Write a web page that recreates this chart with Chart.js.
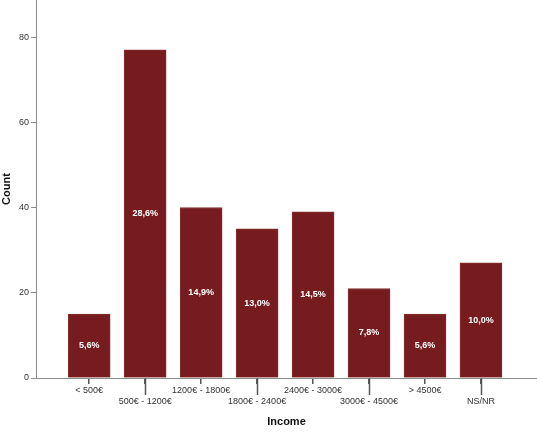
<!DOCTYPE html>
<html>
<head>
<meta charset="utf-8">
<script src="https://cdn.jsdelivr.net/npm/chart.js@4/dist/chart.umd.min.js"></script>
<style>
    html, body { margin: 0; padding: 0; background: #fff; }
    #wrap { width: 537px; height: 441px; position: relative; }
</style>
</head>
<body>
<div id="wrap"><canvas id="incomeChart" width="537" height="441"></canvas></div>
<script>
// Data
const categories = ['< 500€', '500€ - 1200€', '1200€ - 1800€', '1800€ - 2400€', '2400€ - 3000€', '3000€ - 4500€', '> 4500€', 'NS/NR'];
const counts = [15, 77, 40, 35, 39, 21, 15, 27];
const percentLabels = ['5,6%', '28,6%', '14,9%', '13,0%', '14,5%', '7,8%', '5,6%', '10,0%'];
const yTicks = [0, 20, 40, 60, 80];

const barColor = '#761c1f';
const axisColor = '#8c8c8c';

// white percentage labels in the middle of each bar
const barLabels = {
    id: 'barLabels',
    afterDatasetsDraw(chart) {
        const ctx = chart.ctx;
        const meta = chart.getDatasetMeta(0);
        ctx.save();
        ctx.fillStyle = '#ffffff';
        ctx.font = 'bold 9px "Liberation Sans", Arial, sans-serif';
        ctx.textAlign = 'center';
        ctx.textBaseline = 'middle';
        meta.data.forEach((bar, i) => {
            ctx.fillText(percentLabels[i], bar.x, (bar.y + bar.base) / 2);
        });
        ctx.restore();
    }
};

// longer tick marks for the staggered (second row) labels
const longTicks = {
    id: 'longTicks',
    afterDraw(chart) {
        const x = chart.scales.x;
        const ctx = chart.ctx;
        ctx.save();
        ctx.strokeStyle = '#555';
        ctx.lineWidth = 1.5;
        categories.forEach((c, i) => {
            if (i % 2 === 1) {
                const px = Math.round(x.getPixelForValue(i)) + 0.5;
                ctx.beginPath();
                ctx.moveTo(px, x.top);
                ctx.lineTo(px, x.top + 17);
                ctx.stroke();
            }
        });
        ctx.restore();
    }
};

new Chart(document.getElementById('incomeChart'), {
    type: 'bar',
    data: {
        datasets: [{
            data: counts.map((v, i) => ({ x: i, y: v })),
            backgroundColor: barColor,
            borderColor: '#84302f',
            borderWidth: 1,
            barThickness: 42,
        }],
    },
    options: {
        responsive: false,
        animation: false,
        devicePixelRatio: 1,
        layout: { padding: 0 },
        plugins: { legend: { display: false }, tooltip: { enabled: false } },
        scales: {
            x: {
                type: 'linear',
                offset: false,
                min: -0.95,
                max: 8.0,
                afterBuildTicks(scale) {
                    scale.ticks = categories.map((c, i) => ({ value: i }));
                },
                afterFit(scale) {
                    scale.height = 63;
                    scale.paddingLeft = 0;
                    scale.paddingRight = 0;
                },
                grid: { display: true, offset: false, drawOnChartArea: false, tickLength: 6, color: '#555', lineWidth: 1.5 },
                border: { color: axisColor, width: 1 },
                ticks: {
                    autoSkip: false,
                    maxRotation: 0,
                    padding: 1,
                    color: '#333',
                    font: { family: '"Liberation Sans", Arial, sans-serif', size: 9, lineHeight: 1.2 },
                    callback: (v) => (v % 2 === 0 ? categories[v] : ['', categories[v]]),
                },
                title: {
                    display: true,
                    text: 'Income',
                    color: '#111',
                    font: { family: '"Liberation Sans", Arial, sans-serif', size: 11, weight: 'bold' },
                    padding: { top: 0, bottom: 12 },
                },
            },
            y: {
                min: 0,
                max: 88.7,
                afterBuildTicks(scale) {
                    scale.ticks = yTicks.map(v => ({ value: v }));
                },
                afterFit(scale) {
                    scale.width = 36;
                    scale.paddingTop = 0;
                    scale.paddingBottom = 0;
                },
                grid: { display: true, drawOnChartArea: false, tickLength: 5, color: axisColor },
                border: { color: axisColor, width: 1 },
                ticks: {
                    padding: 2,
                    color: '#333',
                    font: { family: '"Liberation Sans", Arial, sans-serif', size: 9 },
                },
                title: {
                    display: true,
                    text: 'Count',
                    color: '#111',
                    font: { family: '"Liberation Sans", Arial, sans-serif', size: 11, weight: 'bold' },
                    padding: { top: 0, bottom: 0 },
                },
            },
        },
    },
    plugins: [barLabels, longTicks],
});
</script>
</body>
</html>
